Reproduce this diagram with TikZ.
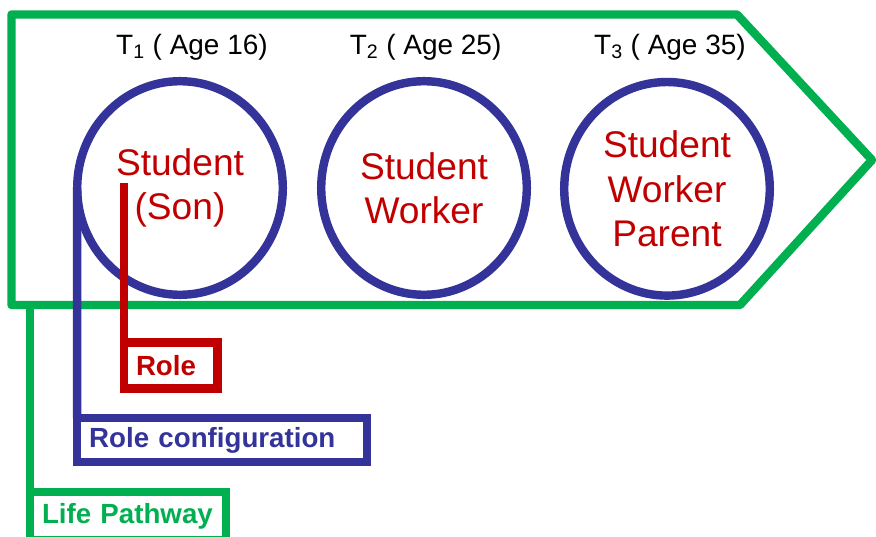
\documentclass[tikz,border=0pt]{standalone}
\usepackage{fontspec}
\setmainfont{Liberation Sans}
\usetikzlibrary{positioning,shapes.geometric}
\definecolor{pathgreen}{HTML}{00B050}
\definecolor{setblue}{HTML}{333399}
\definecolor{rolered}{HTML}{C00000}
\tikzset{
  pathway/.style={draw=pathgreen, line width=6pt, line join=round},
  roleset/.style={draw=setblue, line width=6pt, ellipse, minimum width=5.14cm, minimum height=5.34cm,
    inner sep=0pt, outer sep=0pt, align=center, text=rolered, font=\fontsize{26.4}{31.5}\selectfont},
  stage/.style={font=\fontsize{19.9}{24}\selectfont},
  tag/.style={draw, line width=6pt, anchor=north west, align=left, inner xsep=0.3cm, inner ysep=0pt,
    outer sep=0pt, font=\fontsize{19.7}{23}\selectfont\bfseries},
  lead/.style={line width=6pt}
}

\begin{document}
\begin{tikzpicture}
\useasboundingbox (0,0) rectangle (21.9,-13.425);
% the pathway arrow
\draw[pathway] (0.2875,-0.3625) -- (18.425,-0.3625) -- (21.8,-4.0) -- (18.5,-7.625) -- (0.2875,-7.625) -- cycle;
\node[stage] (t1) at (4.8,-1.175) {T\textsubscript{1} ( Age 16)};
\node[stage] (t2) at (10.64,-1.175) {T\textsubscript{2} ( Age 25)};
\node[stage] (t3) at (16.75,-1.175) {T\textsubscript{3} ( Age 35)};
\node[roleset] (c1) at (4.5,-4.7) {Student\\(Son)};
\node[roleset] (c2) at (10.6,-4.7) {Student\\Worker};
\node[roleset] (c3) at (16.675,-4.72) {Student\\Worker\\Parent};
% callouts
\coordinate (rolept) at (3.1,-4.575);
\coordinate (pathpt) at (0.75,-7.625);
\node[tag, draw=rolered, text=rolered, text width=1.74cm, minimum height=1.15cm] (role) at (3.1,-8.5625) {Role};
\node[tag, draw=setblue, text=setblue, text width=6.64cm, minimum height=1.1cm] (config) at (1.93,-10.45) {Role configuration};
\node[tag, draw=pathgreen, text=pathgreen, text width=4.3cm, minimum height=1.2cm] (life) at (0.75,-12.3) {Life Pathway};
\draw[lead, rolered] (rolept) -- (role.north west);
\draw[lead, setblue] (c1.west) -- (config.north west);
\draw[lead, pathgreen] (pathpt) -- (life.north west);
\end{tikzpicture}
\end{document}
